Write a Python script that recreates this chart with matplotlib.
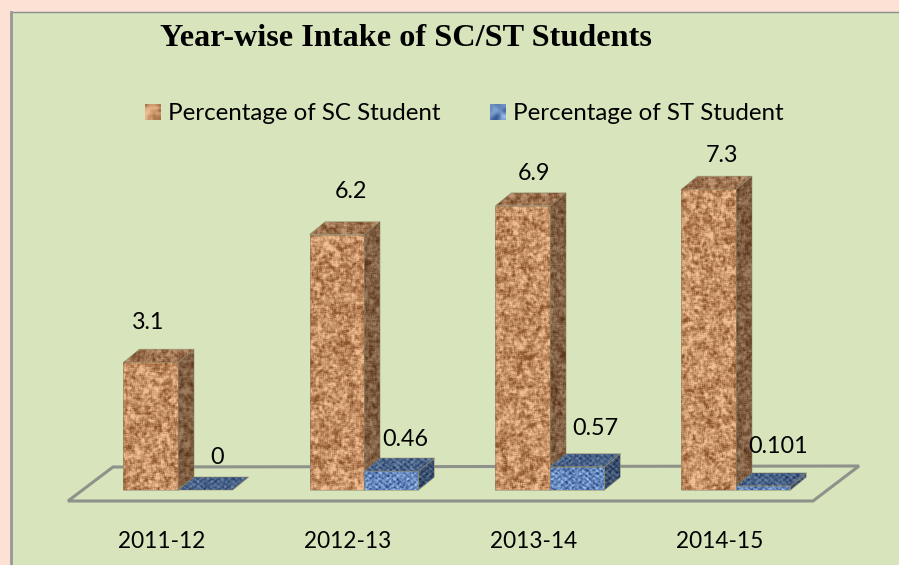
import numpy as np
import matplotlib
matplotlib.use('Agg')
import matplotlib.pyplot as plt
from matplotlib.patches import Polygon, Rectangle

years = ['2011-12', '2012-13', '2013-14', '2014-15']
sc_values = [3.1, 6.2, 6.9, 7.3]
st_values = [0, 0.46, 0.57, 0.101]
sc_labels = ['3.1', '6.2', '6.9', '7.3']
st_labels = ['0', '0.46', '0.57', '0.101']
series_names = ['Percentage of SC Student', 'Percentage of ST Student']

# label offsets in pixels from the (group, value) point
sc_offsets = [(-30, -40), (-13, -43), (-16, -32), (-14, -34)]
st_offsets = [(39, -32), (41, -32), (45, -38), (42, -39)]

W, H = 899, 565
PX_X = 186.0    # pixels per group
PX_Y = 41.2     # pixels per percent
X0 = 178.0      # pixel x of group 0 (boundary between the two bars)
Y0 = 490.0      # pixel y of value 0
BAR_W = 54.5 / PX_X
DX = 16 / PX_X
DY = 13 / PX_Y

rng = np.random.default_rng(3)


def px(x, y):
    return (x - X0) / PX_X, (Y0 - y) / PX_Y


def blur(a, n):
    k = np.ones(n) / n
    a = np.apply_along_axis(lambda r: np.convolve(r, k, mode='same'), 0, a)
    a = np.apply_along_axis(lambda r: np.convolve(r, k, mode='same'), 1, a)
    return a


def cork(h, w, shade=1.0):
    # mottled cork picture fill, only a surface texture
    a = blur(rng.normal(size=(h + 16, w + 16)), 3)[8:-8, 8:-8]
    b = blur(rng.normal(size=(h + 16, w + 16)), 6)[8:-8, 8:-8]
    n = a / a.std() + 0.8 * b / b.std()
    n = n / n.std()
    dark = np.array([140, 84, 44]) / 255
    light = np.array([240, 190, 145]) / 255
    t = np.clip(n * 0.23 + 0.55, 0, 1)[..., None]
    return np.clip((dark + (light - dark) * t) * shade, 0, 1)


def weave(h, w, shade=1.0):
    # blue woven picture fill, only a surface texture
    yy, xx = np.mgrid[0:h, 0:w]
    n = 0.5 + 0.25 * np.sin(xx * 0.9) * np.sin(yy * 1.1) + 0.3 * blur(rng.normal(size=(h, w)), 2)
    dark = np.array([40, 70, 135]) / 255
    light = np.array([160, 200, 240]) / 255
    t = np.clip(n, 0, 1)[..., None]
    return np.clip((dark + (light - dark) * t) * shade, 0, 1)


def textured(ax, verts, fill, shade, z):
    verts = np.array(verts)
    x1, x2 = verts[:, 0].min(), verts[:, 0].max()
    y1, y2 = verts[:, 1].min(), verts[:, 1].max()
    w = max(int((x2 - x1) * PX_X) + 1, 2)
    h = max(int((y2 - y1) * PX_Y) + 1, 2)
    im = ax.imshow(fill(h, w, shade), extent=(x1, x2, y1, y2), aspect='auto',
                   zorder=z, interpolation='bilinear')
    poly = Polygon(verts, closed=True, transform=ax.transData)
    im.set_clip_path(poly)
    ax.add_patch(Polygon(verts, closed=True, fill=False, ec='#8a8468', lw=0.6, alpha=0.6, zorder=z + 0.01))


def bar3d(ax, left, value, fill, z, side=0.66, top=0.8):
    right = left + BAR_W
    textured(ax, [(right, 0), (right + DX, DY), (right + DX, value + DY), (right, value)], fill, side, z)
    textured(ax, [(left, value), (left + DX, value + DY), (right + DX, value + DY), (right, value)], fill, top, z)
    if value > 0:
        textured(ax, [(left, 0), (right, 0), (right, value), (left, value)], fill, 1.0, z + 0.1)


fig = plt.figure(figsize=(W / 100, H / 100), dpi=100, facecolor='#fde1d5')
ax = fig.add_axes([0, 0, 1, 1])
ax.axis('off')

# green panel, runs off the right and bottom of the picture
x1, y1 = px(10.5, 575)
x2, y2 = px(910, 11.5)
ax.add_patch(Rectangle((x1, y1), x2 - x1, y2 - y1, fc='#d8e4bc', ec='#8c8c8c', lw=1.0, zorder=0))
ax.plot([x1, x1], [y1, y2], color='#999999', lw=2, zorder=0.5)

# floor
floor = [px(68, 501), px(113, 467), px(859, 466), px(813, 501)]
ax.add_patch(Polygon(floor, closed=True, fill=False, ec='#8f928a', lw=2.2, zorder=1))

for i in range(len(years)):
    bar3d(ax, i - BAR_W, sc_values[i], cork, 3 + i * 2)
    bar3d(ax, i, st_values[i], weave, 4 + i * 2, side=0.6, top=0.72)
    ax.annotate(sc_labels[i], (i, sc_values[i]), xytext=(sc_offsets[i][0] * 0.72, -sc_offsets[i][1] * 0.72),
                textcoords='offset points', family='Lato', fontsize=16.8, ha='center', va='center', zorder=20)
    ax.annotate(st_labels[i], (i, st_values[i]), xytext=(st_offsets[i][0] * 0.72, -st_offsets[i][1] * 0.72),
                textcoords='offset points', family='Lato', fontsize=16.8, ha='center', va='center', zorder=20)
    ax.text(i - 0.09, px(0, 542)[1], years[i], family='Lato', fontsize=16.3,
            ha='center', va='center')

tx, ty = px(406, 38)
ax.text(tx, ty, 'Year-wise Intake of SC/ST Students', family='Liberation Serif',
        fontweight='bold', fontsize=23.2, ha='center', va='center')

# legend
for name, sw, tx, fill in [(series_names[0], 145, 168, cork), (series_names[1], 490, 513, weave)]:
    a, b = px(sw, 120)
    c, d = px(sw + 16, 104)
    ax.imshow(fill(6, 6), extent=(a, c, b, d), aspect='auto', zorder=5, interpolation='bilinear')
    ax.text(px(tx, 0)[0], px(0, 114)[1], name, family='Lato', fontsize=17.4,
            ha='left', va='center')

ax.set_xlim(px(0, 0)[0], px(W, 0)[0])
ax.set_ylim(px(0, H)[1], px(0, 0)[1])
fig.savefig('out.png', dpi=100, facecolor=fig.get_facecolor())
